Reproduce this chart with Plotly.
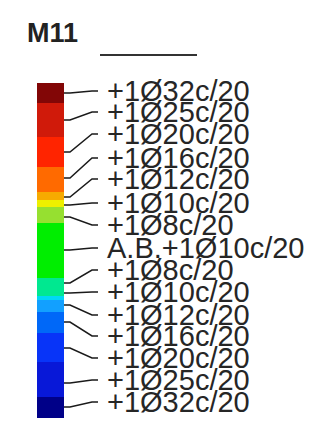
import plotly.graph_objects as go

# ---- data ----
labels = ["+1Ø32c/20", "+1Ø25c/20", "+1Ø20c/20", "+1Ø16c/20", "+1Ø12c/20",
          "+1Ø10c/20", "+1Ø8c/20", "A.B.+1Ø10c/20", "+1Ø8c/20", "+1Ø10c/20",
          "+1Ø12c/20", "+1Ø16c/20", "+1Ø20c/20", "+1Ø25c/20", "+1Ø32c/20"]
label_pos = [91, 112, 134, 158, 179, 203, 225, 248, 270, 292, 315, 336, 358, 380, 402]
bar_pos = [93, 120, 152, 178, 197, 205, 217, 250, 283, 293, 305, 322, 348, 383, 407]

band_edges = [83, 103, 137, 167, 192, 200, 207, 223, 278, 296, 300, 312, 333, 362, 397, 418]
band_colors = ["#820606", "#d01a0a", "#ff2400", "#ff6a00", "#f7aa00", "#eef000",
               "#96e030", "#00ee00", "#00e890", "#00d8f4", "#12a0ff", "#0068f8",
               "#0834f8", "#0818d8", "#000088"]

title = "M11"

# page body has an 8px margin; map axis units to window pixels
OFF = 8

fig = go.Figure()

tops = band_edges[:-1]
heights = [b - a for a, b in zip(band_edges[:-1], band_edges[1:])]
fig.add_trace(go.Bar(
    x=[50.5] * len(tops), base=tops, y=heights, width=27,
    marker=dict(color=band_colors, line=dict(width=0)),
    hoverinfo="skip", showlegend=False))

bar_right = 64
for by, ly in zip(bar_pos, label_pos):
    fig.add_trace(go.Scatter(
        x=[bar_right, bar_right + 6, bar_right + 28, bar_right + 34],
        y=[by, by, ly, ly], mode="lines",
        line=dict(color="#1a1a1a", width=1.5),
        hoverinfo="skip", showlegend=False))

for lab, ly in zip(labels, label_pos):
    fig.add_annotation(x=105, y=ly, text=lab, showarrow=False,
                       xanchor="left", yanchor="middle",
                       font=dict(family="Liberation Sans, Arial", size=29, color="#262626"))

fig.add_annotation(x=25, y=33, text="<b>" + title + "</b>", showarrow=False,
                   xanchor="left", yanchor="middle",
                   font=dict(family="Liberation Sans, Arial", size=27, color="#222222"))
fig.add_shape(type="line", x0=100, x1=197, y0=55, y1=55,
              line=dict(color="#333333", width=2))

fig.update_layout(
    width=318 - OFF, height=426 - OFF, margin=dict(l=0, r=0, t=0, b=0),
    paper_bgcolor="white", plot_bgcolor="white", bargap=0,
    xaxis=dict(range=[OFF, 318], visible=False, fixedrange=True),
    yaxis=dict(range=[426, OFF], visible=False, fixedrange=True),
)

fig.write_html("out.html")
